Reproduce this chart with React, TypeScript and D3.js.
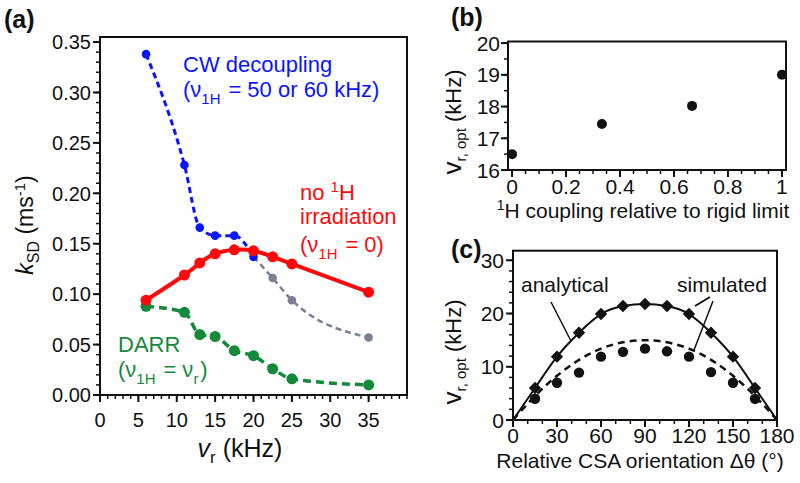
import React from 'react';
import * as d3 from 'd3';

// ---------- Panel (a) data ----------
const speeds = [6, 11, 13, 15, 17.5, 20, 22.5, 25, 35];
const cwSpeeds = [6, 11, 13, 15, 17.5, 20];
const cwValues = [0.338, 0.228, 0.166, 0.158, 0.158, 0.137];
const graySpeeds = [20, 22.5, 25, 35];
const grayValues = [0.137, 0.116, 0.094, 0.057];
const noIrrValues = [0.094, 0.119, 0.131, 0.14, 0.144, 0.143, 0.137, 0.13, 0.102];
const darrValues = [0.088, 0.082, 0.06, 0.058, 0.044, 0.039, 0.026, 0.016, 0.01];
const aXTicks = [0, 5, 10, 15, 20, 25, 30, 35];
const aYTicks = [0, 0.05, 0.1, 0.15, 0.2, 0.25, 0.3, 0.35];

// ---------- Panel (b) data ----------
const couplingX = [0, 0.333, 0.667, 1];
const optSpeed = [16.5, 17.45, 18.02, 19.0];
const bXTicks = [0, 0.2, 0.4, 0.6, 0.8, 1];
const bYTicks = [16, 17, 18, 19, 20];

// ---------- Panel (c) data ----------
const curveAngles = [0, 15, 30, 45, 60, 75, 90, 105, 120, 135, 150, 165, 180];
const analyticalCurve = [0, 6.0, 11.9, 16.4, 19.9, 21.4, 21.8, 21.4, 19.9, 16.4, 11.9, 6.0, 0];
const dashedCurve = [0, 4.5, 8.3, 11.3, 13.4, 14.6, 15.0, 14.6, 13.4, 11.3, 8.3, 4.5, 0];
const pointAngles = [15, 30, 45, 60, 75, 90, 105, 120, 135, 150, 165];
const diamondValues = [6.0, 11.9, 16.4, 19.9, 21.4, 21.8, 21.4, 19.9, 16.4, 11.9, 6.0];
const circleValues = [4.0, 7.0, 8.9, 11.9, 12.8, 13.4, 12.9, 11.9, 9.0, 7.0, 4.0];
const cXTicks = [0, 30, 60, 90, 120, 150, 180];
const cYTicks = [0, 10, 20, 30];

const FONT = 'Liberation Sans, Arial, Helvetica, sans-serif';
const BLUE = '#0a14ff';
const RED = '#ff0a0a';
const GREEN = '#14893a';
const GRAY = '#7d7f95';

type Lin = d3.ScaleLinear<number, number>;

function Frame({ x, y }: { x: Lin; y: Lin }) {
  const [x0, x1] = x.range();
  const [y0, y1] = y.range();
  return (
    <rect x={x0} y={y1} width={x1 - x0} height={y0 - y1} fill="none" stroke="#111" strokeWidth={2} />
  );
}

function Axes({
  x, y, xMajor, xMinorStep, yMajor, yMinorStep, xFmt, yFmt, fs, xLabY, yLabX,
}: {
  x: Lin; y: Lin; xMajor: number[]; xMinorStep: number; yMajor: number[]; yMinorStep: number;
  xFmt: (v: number) => string; yFmt: (v: number) => string; fs: number; xLabY: number; yLabX: number;
}) {
  const [xd0, xd1] = x.domain();
  const [yd0, yd1] = y.domain();
  const xMinor = d3.range(Math.ceil(xd0 / xMinorStep - 1e-9), Math.floor(xd1 / xMinorStep + 1e-9) + 1).map((i) => i * xMinorStep);
  const yMinor = d3.range(Math.ceil(yd0 / yMinorStep - 1e-9), Math.floor(yd1 / yMinorStep + 1e-9) + 1).map((i) => i * yMinorStep);
  const bottom = y.range()[0];
  const left = x.range()[0];
  return (
    <g>
      {xMinor.map((v, i) => (
        <line key={'xm' + i} x1={x(v)} x2={x(v)} y1={bottom} y2={bottom + 4} stroke="#111" strokeWidth={1.5} />
      ))}
      {xMajor.map((v, i) => (
        <line key={'xM' + i} x1={x(v)} x2={x(v)} y1={bottom} y2={bottom + 7} stroke="#111" strokeWidth={2} />
      ))}
      {yMinor.map((v, i) => (
        <line key={'ym' + i} y1={y(v)} y2={y(v)} x1={left} x2={left - 4} stroke="#111" strokeWidth={1.5} />
      ))}
      {yMajor.map((v, i) => (
        <line key={'yM' + i} y1={y(v)} y2={y(v)} x1={left} x2={left - 7} stroke="#111" strokeWidth={2} />
      ))}
      {xMajor.map((v, i) => (
        <text key={'xl' + i} x={x(v)} y={xLabY} fontSize={fs} textAnchor="middle" fill="#111">{xFmt(v)}</text>
      ))}
      {yMajor.map((v, i) => (
        <text key={'yl' + i} x={yLabX} y={y(v)} dy="0.36em" fontSize={fs} textAnchor="end" fill="#111">{yFmt(v)}</text>
      ))}
    </g>
  );
}

export default function App() {
  // Panel (a)
  const ax = d3.scaleLinear().domain([0, 40]).range([100, 407]);
  const ay = d3.scaleLinear().domain([0, 0.355]).range([395, 37]);
  const lineA = (curve: d3.CurveFactory) =>
    d3.line<[number, number]>().x((d) => ax(d[0])).y((d) => ay(d[1])).curve(curve);
  const cwPts: [number, number][] = cwSpeeds.map((s, i) => [s, cwValues[i]]);
  const grayPts: [number, number][] = graySpeeds.map((s, i) => [s, grayValues[i]]);
  const redPts: [number, number][] = speeds.map((s, i) => [s, noIrrValues[i]]);
  const greenPts: [number, number][] = speeds.map((s, i) => [s, darrValues[i]]);

  // Panel (b)
  const bx = d3.scaleLinear().domain([-0.015, 1.015]).range([508, 786]);
  const by = d3.scaleLinear().domain([16, 20.05]).range([170, 41.5]);

  // Panel (c)
  const cx = d3.scaleLinear().domain([0, 180]).range([513, 777]);
  const cy = d3.scaleLinear().domain([0, 31.8]).range([420, 250.7]);
  const lineC = d3.line<[number, number]>().x((d) => cx(d[0])).y((d) => cy(d[1])).curve(d3.curveNatural);
  const anaPts: [number, number][] = curveAngles.map((a, i) => [a, analyticalCurve[i]]);
  const dashPts: [number, number][] = curveAngles.map((a, i) => [a, dashedCurve[i]]);

  const sub = (t: string, fs: number) => (
    <>
      <tspan dy={fs * 0.3} fontSize={fs * 0.68}>{t}</tspan>
      <tspan dy={-fs * 0.3}>{'\u200a'}</tspan>
    </>
  );

  return (
    <svg width={800} height={483} style={{ position: 'absolute', left: 0, top: 0, background: '#fff' }} fontFamily={FONT}>
      <rect width={800} height={483} fill="#fff" />

      {/* ================= Panel (a) ================= */}
      <text x={4} y={28} fontSize={25} fontWeight="bold" fill="#111">(a)</text>
      <Axes x={ax} y={ay} xMajor={aXTicks} xMinorStep={1} yMajor={aYTicks} yMinorStep={0.01}
        xFmt={(v) => String(v)} yFmt={(v) => v.toFixed(2)} fs={20} xLabY={427} yLabX={91} />
      {/* curves */}
      <path d={lineA(d3.curveMonotoneX)(grayPts) || ''} fill="none" stroke={GRAY} strokeWidth={2.5} strokeDasharray="6 4" />
      <path d={lineA(d3.curveMonotoneX)(cwPts) || ''} fill="none" stroke={BLUE} strokeWidth={3} strokeDasharray="6 4" />
      <path d={lineA(d3.curveMonotoneX)(greenPts) || ''} fill="none" stroke={GREEN} strokeWidth={3.5} strokeDasharray="8 5" />
      {greenPts.map((d, i) => <circle key={'g' + i} cx={ax(d[0])} cy={ay(d[1])} r={5.5} fill={GREEN} />)}
      {grayPts.slice(1).map((d, i) => <circle key={'gr' + i} cx={ax(d[0])} cy={ay(d[1])} r={4.3} fill={GRAY} />)}
      {cwPts.map((d, i) => <circle key={'b' + i} cx={ax(d[0])} cy={ay(d[1])} r={4.3} fill={BLUE} />)}
      <path d={lineA(d3.curveNatural)(redPts) || ''} fill="none" stroke={RED} strokeWidth={4} />
      {redPts.map((d, i) => <circle key={'r' + i} cx={ax(d[0])} cy={ay(d[1])} r={5.5} fill={RED} />)}
      <Frame x={ax} y={ay} />
      {/* annotations */}
      <text x={183} y={72} fontSize={22} fill={BLUE}>CW decoupling</text>
      <text x={183} y={97} fontSize={22} fill={BLUE}>(ν{sub('1H', 22)} = 50 or 60 kHz)</text>
      <text x={300} y={200} fontSize={22} fill={RED}>no <tspan dy={-8} fontSize={15}>1</tspan><tspan dy={8}>H</tspan></text>
      <text x={300} y={224} fontSize={22} fill={RED}>irradiation</text>
      <text x={300} y={252} fontSize={22} fill={RED}>(ν{sub('1H', 22)} = 0)</text>
      <text x={118} y={352} fontSize={22} fill={GREEN}>DARR</text>
      <text x={118} y={377} fontSize={22} fill={GREEN}>(ν{sub('1H', 22)} = ν{sub('r', 22)})</text>
      {/* axis labels */}
      <text transform="translate(33,225) rotate(-90)" fontSize={23} textAnchor="middle" fill="#111">
        <tspan fontStyle="italic">k</tspan><tspan dy={6} fontSize={16}>SD</tspan><tspan dy={-6}>{'  '}(ms</tspan><tspan dy={-8} fontSize={15}>-1</tspan><tspan dy={8}>)</tspan>
      </text>
      <text x={240} y={457} fontSize={25} textAnchor="middle" fill="#111">
        <tspan fontStyle="italic">v</tspan><tspan dy={6} fontSize={17}>r</tspan><tspan dy={-6}> (kHz)</tspan>
      </text>

      {/* ================= Panel (b) ================= */}
      <text x={451} y={26} fontSize={25} fontWeight="bold" fill="#111">(b)</text>
      <Axes x={bx} y={by} xMajor={bXTicks} xMinorStep={0.05} yMajor={bYTicks} yMinorStep={0.5}
        xFmt={(v) => (v === 0 || v === 1 ? String(v) : v.toFixed(1))} yFmt={(v) => String(v)} fs={21} xLabY={194} yLabX={500} />
      <Frame x={bx} y={by} />
      {couplingX.map((c, i) => <circle key={'bp' + i} cx={bx(c)} cy={by(optSpeed[i])} r={5} fill="#111" />)}
      <text x={643} y={218} fontSize={21} textAnchor="middle" fill="#111">
        <tspan dy={-8} fontSize={14}>1</tspan><tspan dy={8}>H coupling relative to rigid limit</tspan>
      </text>
      <text transform="translate(461,122) rotate(-90)" fontSize={22} textAnchor="middle" fill="#111">
        <tspan fontSize={26}>v</tspan><tspan dy={5} fontSize={15}>r, opt</tspan><tspan dy={-5}> (kHz)</tspan>
      </text>

      {/* ================= Panel (c) ================= */}
      <text x={451} y={258} fontSize={25} fontWeight="bold" fill="#111">(c)</text>
      <Axes x={cx} y={cy} xMajor={cXTicks} xMinorStep={10} yMajor={cYTicks} yMinorStep={2}
        xFmt={(v) => String(v)} yFmt={(v) => String(v)} fs={21} xLabY={443} yLabX={504} />
      <path d={lineC(dashPts) || ''} fill="none" stroke="#111" strokeWidth={2.5} strokeDasharray="7 5" />
      <path d={lineC(anaPts) || ''} fill="none" stroke="#111" strokeWidth={2} />
      {pointAngles.map((a, i) => <circle key={'cc' + i} cx={cx(a)} cy={cy(circleValues[i])} r={5.2} fill="#111" />)}
      {pointAngles.map((a, i) => {
        const px = cx(a);
        const py = cy(diamondValues[i]);
        const s = 6.2;
        return <path key={'cd' + i} d={`M${px},${py - s}L${px + s},${py}L${px},${py + s}L${px - s},${py}Z`} fill="#111" />;
      })}
      <Frame x={cx} y={cy} />
      <text x={521} y={292} fontSize={21} fill="#111">analytical</text>
      <text x={677} y={292} fontSize={21} fill="#111">simulated</text>
      <line x1={551} y1={302} x2={571} y2={341} stroke="#111" strokeWidth={1.5} />
      <line x1={710} y1={297} x2={695} y2={306} stroke="#111" strokeWidth={2} />
      <line x1={713} y1={301} x2={694} y2={350} stroke="#111" strokeWidth={1.5} />
      <text x={640} y={468} fontSize={21} textAnchor="middle" fill="#111">Relative CSA orientation Δθ (°)</text>
      <text transform="translate(461,352) rotate(-90)" fontSize={22} textAnchor="middle" fill="#111">
        <tspan fontSize={26}>v</tspan><tspan dy={5} fontSize={15}>r, opt</tspan><tspan dy={-5}> (kHz)</tspan>
      </text>
    </svg>
  );
}
